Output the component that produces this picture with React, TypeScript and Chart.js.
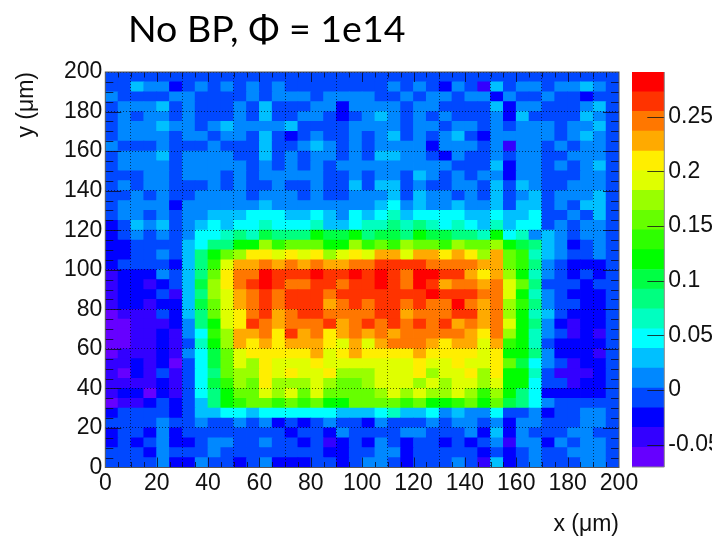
import React, { useEffect, useRef } from "react";
import { Chart, registerables } from "chart.js";

Chart.register(...registerables);

// Each number is the colour-bin index of one 5 µm × 5 µm cell.
// Rows run from y = 195-200 (row00) to y = 0-5 (row39), columns from x = 0 to x = 200.
const row00 = [3,3,3,3,3,3,3,3,3,3,3,3,3,3,3,3,3,3,3,3,3,3,3,3,3,3,3,3,3,3,3,3,3,3,3,3,3,3,3,3];
const row01 = [3,3,5,4,4,2,3,4,3,4,3,4,3,4,3,3,3,3,3,3,3,3,4,3,4,3,2,4,3,1,5,3,4,4,3,4,4,5,4,3];
const row02 = [4,3,3,3,3,4,4,3,3,3,3,4,3,4,4,4,3,4,4,4,4,3,3,4,3,4,4,3,4,4,2,4,3,3,4,3,3,2,3,3];
const row03 = [3,4,4,4,5,3,4,3,3,3,4,3,5,3,3,3,4,4,2,4,4,4,4,3,4,4,3,3,3,3,5,2,4,4,3,3,3,4,5,3];
const row04 = [3,4,3,4,4,3,4,3,3,3,4,3,5,3,3,4,4,3,2,3,4,5,4,3,4,3,4,3,3,3,4,2,5,3,3,3,3,5,4,3];
const row05 = [3,4,4,4,5,4,4,3,4,5,4,4,4,4,5,3,3,3,3,4,4,4,4,3,4,4,3,4,4,3,4,3,4,4,4,3,4,4,5,3];
const row06 = [3,4,4,4,4,3,4,4,3,4,4,3,5,3,2,3,4,3,3,4,3,4,5,3,4,3,4,5,3,2,4,4,4,4,4,3,4,5,4,3];
const row07 = [4,3,3,3,4,3,3,3,4,3,3,3,5,3,3,4,5,4,3,4,3,4,4,4,4,2,4,4,4,3,4,1,4,4,3,4,3,4,4,3];
const row08 = [3,4,4,4,5,3,4,4,4,4,3,3,5,3,4,3,4,4,3,4,3,5,5,4,4,3,2,4,3,3,4,3,4,4,3,3,4,4,4,3];
const row09 = [3,4,4,4,4,3,4,4,4,4,4,3,4,3,4,3,4,3,4,4,4,4,4,4,4,4,4,3,3,3,5,2,4,4,3,4,3,4,5,3];
const row10 = [3,3,3,4,4,3,4,4,4,3,4,3,4,4,4,4,4,3,3,4,3,4,4,3,5,4,3,4,3,4,4,2,4,4,3,3,3,4,4,3];
const row11 = [3,4,3,4,4,3,3,3,4,3,4,3,3,4,3,3,4,3,3,5,3,5,5,3,4,3,3,4,4,3,5,3,5,4,3,3,4,4,4,3];
const row12 = [3,3,4,3,4,3,3,4,4,4,4,3,4,4,4,3,4,3,3,4,4,4,5,3,5,4,4,3,4,3,5,3,4,5,3,4,4,4,5,3];
const row13 = [3,4,4,4,4,2,4,4,4,4,4,4,5,4,4,4,4,4,4,4,4,5,6,4,5,4,4,5,4,4,5,3,5,5,3,4,3,5,5,3];
const row14 = [3,4,4,3,4,3,4,4,5,5,5,6,6,6,5,5,6,5,4,6,5,6,7,5,6,6,6,6,5,5,6,5,5,6,3,3,4,3,5,3];
const row15 = [2,3,5,4,5,3,4,5,6,5,6,6,7,6,6,6,7,5,5,6,7,7,8,7,8,7,6,7,6,5,7,5,6,6,3,4,3,4,4,3];
const row16 = [2,3,4,3,4,3,4,6,6,7,8,7,9,8,8,8,10,9,9,10,8,9,9,8,10,9,9,8,8,7,10,6,7,4,5,4,3,4,4,3];
const row17 = [2,2,3,3,3,3,5,6,8,8,10,10,13,11,12,12,12,10,10,13,11,12,11,13,12,12,11,13,12,12,13,10,9,8,5,4,2,3,4,3];
const row18 = [2,2,3,3,4,3,5,8,10,12,13,15,15,14,15,14,15,13,14,15,14,16,16,14,16,16,15,16,15,13,16,12,11,7,5,4,3,3,4,3];
const row19 = [2,3,3,3,3,2,5,8,11,14,16,16,17,16,17,16,17,16,16,17,17,18,18,18,18,17,17,17,17,16,16,12,11,8,4,3,2,2,2,3];
const row20 = [1,2,2,2,4,3,5,8,12,15,17,17,19,18,18,18,19,18,18,19,18,19,18,17,19,19,18,18,16,15,16,13,10,7,4,3,2,3,2,3];
const row21 = [1,2,2,1,2,3,5,9,13,15,17,18,19,18,17,17,18,18,17,18,18,19,18,17,19,18,16,17,17,16,17,14,12,8,3,3,3,2,3,3];
const row22 = [1,2,2,2,3,1,5,8,13,14,16,17,18,17,18,18,18,17,18,18,18,18,18,18,18,19,18,18,18,17,17,14,10,7,4,3,2,2,2,3];
const row23 = [1,2,2,1,2,2,5,9,12,14,16,17,18,17,18,18,18,16,17,18,17,18,18,17,18,17,17,19,17,16,17,13,11,8,4,3,3,2,2,3];
const row24 = [0,1,1,1,3,2,5,8,12,14,15,17,18,16,17,18,18,17,17,17,17,18,18,16,17,17,17,18,18,16,17,13,10,7,5,3,2,2,2,3];
const row25 = [0,0,1,1,1,2,4,8,10,14,15,18,17,16,17,17,17,18,16,17,18,17,18,17,18,17,18,16,17,16,17,14,10,8,4,2,1,2,2,3];
const row26 = [0,0,1,1,2,1,4,6,11,13,16,16,17,15,18,16,17,15,16,17,16,17,16,17,17,17,17,17,16,15,17,13,10,7,4,3,1,2,1,3];
const row27 = [0,0,1,1,2,1,3,7,10,13,16,15,16,15,16,16,16,15,14,16,14,16,17,17,17,16,15,16,16,14,16,11,10,7,3,2,2,2,2,3];
const row28 = [0,1,1,1,2,1,4,6,9,12,14,15,15,15,15,15,16,14,15,16,15,15,15,15,16,15,15,15,15,14,15,10,10,8,4,2,2,2,1,3];
const row29 = [1,1,2,1,2,0,3,6,9,12,14,13,15,14,14,14,15,14,14,14,14,14,14,14,15,14,14,15,14,14,15,12,9,6,4,3,1,2,2,3];
const row30 = [1,0,2,1,3,1,3,6,8,12,13,13,15,14,15,14,14,15,13,13,13,14,14,14,15,13,14,14,15,13,15,10,10,7,3,1,1,1,2,3];
const row31 = [1,1,1,1,2,1,3,6,9,11,13,12,15,13,13,13,14,13,12,12,13,14,14,14,13,14,13,14,14,13,14,10,10,6,3,3,1,2,2,3];
const row32 = [1,2,2,0,2,1,3,6,8,10,12,12,14,13,14,12,14,12,12,12,12,13,14,13,14,13,13,14,13,11,13,10,8,6,2,2,2,2,2,3];
const row33 = [0,1,1,2,3,2,3,5,8,10,11,12,12,11,12,11,12,10,10,12,12,12,12,11,12,10,10,11,12,10,12,9,8,6,4,3,3,3,3,3];
const row34 = [2,3,3,3,3,2,3,5,5,6,6,5,6,6,6,6,6,6,5,5,5,6,7,5,5,6,4,5,4,4,6,3,3,4,2,3,3,4,4,3];
const row35 = [3,3,3,3,4,3,3,4,3,3,4,3,4,2,3,2,3,4,3,3,2,4,3,3,3,4,3,4,4,3,4,2,4,4,3,3,3,4,4,3];
const row36 = [2,3,3,2,4,2,3,3,3,3,3,3,3,3,2,3,3,2,4,3,3,3,3,4,4,3,3,3,4,2,5,2,4,3,3,3,4,4,3,3];
const row37 = [2,3,2,3,4,2,2,3,4,4,3,3,4,3,3,2,3,1,2,3,2,4,3,2,3,3,2,3,2,3,4,1,4,4,2,4,3,4,4,3];
const row38 = [3,3,3,2,4,3,3,3,4,3,3,3,3,3,3,3,3,2,2,3,3,4,4,2,3,3,3,3,3,2,3,2,3,4,3,3,4,4,4,3];
const row39 = [3,3,3,3,4,2,2,4,3,3,2,3,4,2,2,2,3,3,2,3,4,4,3,2,3,3,3,4,3,1,5,2,3,4,3,3,3,4,4,3];

const zRows = [
  row00, row01, row02, row03, row04, row05, row06, row07, row08, row09,
  row10, row11, row12, row13, row14, row15, row16, row17, row18, row19,
  row20, row21, row22, row23, row24, row25, row26, row27, row28, row29,
  row30, row31, row32, row33, row34, row35, row36, row37, row38, row39,
];

const binWidth = 5; // µm
const axisMin = 0;
const axisMax = 200;

// Colour bin edges of the z axis (21 edges, 20 bins).
const zEdges = [
  -0.0704, -0.0523, -0.0342, -0.0162, 0.0019, 0.02, 0.0381, 0.0561, 0.0742, 0.0923,
  0.1103, 0.1284, 0.1465, 0.1645, 0.1826, 0.2007, 0.2187, 0.2368, 0.2549, 0.2729, 0.2909,
];
const zPalette = [
  "#6600FF", "#3300FF", "#0000FF", "#0048FF", "#0088FF", "#00C0FF", "#00FFFF",
  "#00FFC0", "#00FF80", "#00FF44", "#00FF00", "#2EFF00", "#66FF00", "#99FF00",
  "#DFFF00", "#FFEE00", "#FFAA00", "#FF7700", "#FF3300", "#FF0000",
];
const zTicks = [-0.05, 0, 0.05, 0.1, 0.15, 0.2, 0.25];

const titleText = "No BP, Φ = 1e14";
const xTitle = "x (μm)";
const yTitle = "y (μm)";

const FONT = "'Liberation Sans', Arial, sans-serif";
const TICK_SIZE = 23;

const cells = zRows.flatMap((row, r) =>
  row.map((level, c) => ({
    x: (c + 0.5) * binWidth,
    y: [axisMax - (r + 1) * binWidth, axisMax - r * binWidth],
    level,
  }))
);

const heatFrame = {
  id: "heatFrame",
  afterDraw(chart: any) {
    const { ctx, chartArea: a, scales } = chart;
    ctx.save();
    ctx.lineWidth = 1;
    ctx.strokeStyle = "rgba(10,10,40,0.8)";
    ctx.beginPath();
    for (let v = axisMin + binWidth; v < axisMax; v += binWidth) {
      const major = v % 20 === 0;
      const px = Math.round(scales.x.getPixelForValue(v)) + 0.5;
      const lenX = major ? 10 : 5.5;
      ctx.moveTo(px, a.bottom);
      ctx.lineTo(px, a.bottom - lenX);
      ctx.moveTo(px, a.top);
      ctx.lineTo(px, a.top + lenX);
      const py = Math.round(scales.y.getPixelForValue(v)) + 0.5;
      const lenY = major ? 16 : 8;
      ctx.moveTo(a.left, py);
      ctx.lineTo(a.left + lenY, py);
      ctx.moveTo(a.right, py);
      ctx.lineTo(a.right - lenY, py);
    }
    ctx.stroke();
    ctx.strokeStyle = "#555";
    ctx.strokeRect(a.left, a.top, a.right - a.left, a.bottom - a.top);
    ctx.restore();
  },
};

const barFrame = {
  id: "barFrame",
  afterDraw(chart: any) {
    const { ctx, chartArea: a, scales } = chart;
    ctx.save();
    ctx.lineWidth = 1;
    ctx.strokeStyle = "rgba(20,20,20,0.8)";
    ctx.beginPath();
    for (const v of zTicks) {
      const py = Math.round(scales.y.getPixelForValue(v)) + 0.5;
      ctx.moveTo(a.right, py);
      ctx.lineTo(a.right - 17, py);
    }
    ctx.stroke();
    ctx.strokeStyle = "#888";
    ctx.beginPath();
    ctx.moveTo(a.right, a.top);
    ctx.lineTo(a.right, a.bottom);
    ctx.lineTo(a.left, a.bottom);
    ctx.stroke();
    ctx.restore();
  },
};

export default function App() {
  const heatRef = useRef<HTMLCanvasElement>(null);
  const barRef = useRef<HTMLCanvasElement>(null);

  useEffect(() => {
    const gridOpts = {
      color: "rgba(0,0,0,0.6)",
      lineWidth: 1,
      z: 1,
      drawTicks: false,
    };
    const tickFont = { family: FONT, size: TICK_SIZE, lineHeight: 1 };
    const heat = new Chart(heatRef.current!, {
      type: "bar",
      data: {
        datasets: [
          {
            data: cells as any,
            backgroundColor: cells.map((c) => zPalette[c.level]),
            borderWidth: 0,
            inflateAmount: 0.4,
            barPercentage: 1,
            categoryPercentage: 1,
          } as any,
        ],
      },
      options: {
        animation: false,
        responsive: false,
        events: [],
        layout: { padding: { left: 0, right: 100, top: 72, bottom: 0 } },
        plugins: { legend: { display: false }, tooltip: { enabled: false } },
        scales: {
          x: {
            type: "linear",
            min: axisMin,
            max: axisMax,
            offset: false,
            grid: gridOpts,
            border: { display: false, dash: [1, 2] },
            ticks: {
              stepSize: 20,
              autoSkip: false,
              maxRotation: 0,
              color: "#111",
              font: tickFont,
              padding: 5,
              callback: (v: any) => String(v),
            },
            title: {
              display: true,
              text: xTitle,
              align: "end",
              color: "#111",
              font: { family: FONT, size: TICK_SIZE, lineHeight: 1 },
              padding: { top: 0, bottom: 0 },
            },
            afterFit: (s: any) => {
              s.height = 68.5;
            },
          },
          y: {
            type: "linear",
            min: axisMin,
            max: axisMax,
            grid: gridOpts,
            border: { display: false, dash: [1, 2] },
            ticks: {
              stepSize: 20,
              autoSkip: false,
              color: "#111",
              font: tickFont,
              padding: 3,
              callback: (v: any) => String(v),
            },
            title: {
              display: true,
              text: yTitle,
              align: "end",
              color: "#111",
              font: { family: FONT, size: TICK_SIZE, lineHeight: 1.2 },
              padding: { top: 13, bottom: 0 },
            },
            afterFit: (s: any) => {
              s.width = 105.3;
            },
          },
        },
      } as any,
      plugins: [heatFrame],
    });

    const levels = zPalette.map((_, i) => i);
    const bar = new Chart(barRef.current!, {
      type: "bar",
      data: {
        labels: ["z"],
        datasets: levels.map((i) => ({
          data: [[zEdges[i], zEdges[i + 1]]],
          backgroundColor: zPalette[i],
          borderWidth: 0,
          inflateAmount: 0.3,
          barPercentage: 1,
          categoryPercentage: 1,
          grouped: false,
        })) as any,
      },
      options: {
        animation: false,
        responsive: false,
        events: [],
        layout: { padding: { left: 7, right: 0, top: 22, bottom: 19 } },
        plugins: { legend: { display: false }, tooltip: { enabled: false } },
        scales: {
          x: { display: false, stacked: false },
          y: {
            type: "linear",
            position: "right",
            min: zEdges[0],
            max: zEdges[zEdges.length - 1],
            grid: { display: false, drawTicks: false },
            border: { display: false },
            afterBuildTicks: (s: any) => {
              s.ticks = zTicks.map((value) => ({ value }));
            },
            ticks: {
              autoSkip: false,
              color: "#111",
              font: tickFont,
              padding: 4,
              callback: (v: any) => String(Math.round(v * 100) / 100),
            },
            afterFit: (s: any) => {
              s.width = 47.7;
            },
          },
        },
      } as any,
      plugins: [barFrame],
    });

    return () => {
      heat.destroy();
      bar.destroy();
    };
  }, []);

  return (
    <div style={{ position: "absolute", left: 0, top: 0, width: 719, height: 536, overflow: "hidden", background: "#fff" }}>
      <canvas ref={heatRef} width={719} height={536} style={{ position: "absolute", left: 0, top: 0 }} />
      <canvas ref={barRef} width={87} height={436} style={{ position: "absolute", left: 625, top: 50 }} />
      <div
        style={{
          position: "absolute",
          left: 128,
          top: 5,
          fontFamily: "Lato, 'Noto Sans', sans-serif",
          fontSize: 37.5,
          lineHeight: "46px",
          color: "#000",
          whiteSpace: "nowrap",
        }}
      >
        {titleText}
      </div>
    </div>
  );
}
